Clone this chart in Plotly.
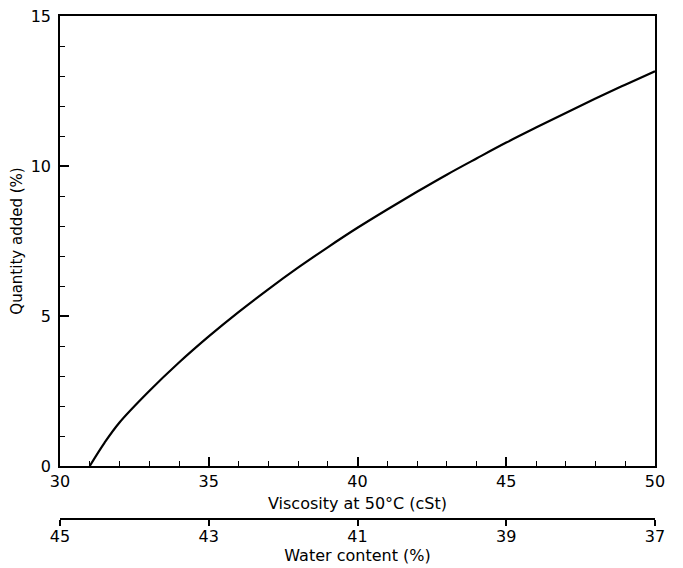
import plotly.graph_objects as go

viscosity = [31.0, 31.5, 32, 33, 34, 35, 36, 37, 38, 39, 40, 41, 42, 43, 44, 45, 46, 47, 48, 49, 50]
quantity = [0.0, 0.78, 1.45, 2.5, 3.45, 4.32, 5.13, 5.89, 6.61, 7.29, 7.94, 8.55, 9.14, 9.71, 10.25, 10.78, 11.28, 11.77, 12.25, 12.71, 13.16]

x_ticks = [30, 35, 40, 45, 50]
y_ticks = [0, 5, 10, 15]
water_ticks = [45, 43, 41, 39, 37]

FONT = "DejaVu Sans"

fig = go.Figure()
fig.add_trace(go.Scatter(x=viscosity, y=quantity, mode="lines",
                         line=dict(color="black", width=2.2, shape="spline", smoothing=1.0),
                         showlegend=False, hoverinfo="skip"))
# invisible carrier so the water-content axis is drawn
fig.add_trace(go.Scatter(x=water_ticks, y=[None] * len(water_ticks), xaxis="x2", yaxis="y",
                         mode="markers", marker=dict(opacity=0), showlegend=False, hoverinfo="skip"))

# page body has an 8px offset
OFF = 8
W, H = 683 - OFF, 568 - OFF
left, right, top, bottom_main, bottom_all = 60 - OFF, 655 - OFF, 16 - OFF, 466 - OFF, 519 - OFF
plot_h = bottom_all - top
ydom0 = (bottom_all - bottom_main) / plot_h

fig.update_layout(
    width=W, height=H,
    margin=dict(l=left, r=W - right, t=top, b=H - bottom_all),
    paper_bgcolor="white", plot_bgcolor="white",
    font=dict(family=FONT, color="black", size=16),
    showlegend=False,
    xaxis=dict(range=[30, 50], tickvals=x_ticks, ticks="inside", ticklen=9, tickwidth=1.5,
               tickcolor="black", showline=True, linecolor="black", linewidth=1.5, mirror=True,
               showgrid=False, zeroline=False, anchor="y", automargin=False,
               ticklabeloverflow="allow",
               minor=dict(dtick=1, ticks="inside", ticklen=5, tickwidth=1.2, tickcolor="black", showgrid=False),
               title=dict(text="Viscosity at 50°C (cSt)", standoff=8, font=dict(size=16)),
               tickfont=dict(size=16)),
    yaxis=dict(range=[0, 15], domain=[ydom0, 1], tickvals=y_ticks, ticks="inside", ticklen=9, tickwidth=1.5,
               tickcolor="black", showline=True, linecolor="black", linewidth=1.5, mirror=True,
               showgrid=False, zeroline=False, automargin=False, ticklabelstandoff=4,
               ticklabeloverflow="allow",
               minor=dict(dtick=1, ticks="inside", ticklen=5, tickwidth=1.2, tickcolor="black", showgrid=False),
               title=dict(text="Quantity added (%)", standoff=8, font=dict(size=15)),
               tickfont=dict(size=16)),
    xaxis2=dict(range=[45, 37], tickvals=water_ticks, overlaying="x", anchor="free", position=0,
                side="bottom", ticks="outside", ticklen=6, tickwidth=1.5, tickcolor="black",
                showline=True, linecolor="black", linewidth=1.5, showgrid=False, zeroline=False,
                automargin=False, ticklabelstandoff=-3, ticklabeloverflow="allow",
                title=dict(text="Water content (%)", standoff=4, font=dict(size=16)),
                tickfont=dict(size=16)),
)

fig.write_html("out.html")
